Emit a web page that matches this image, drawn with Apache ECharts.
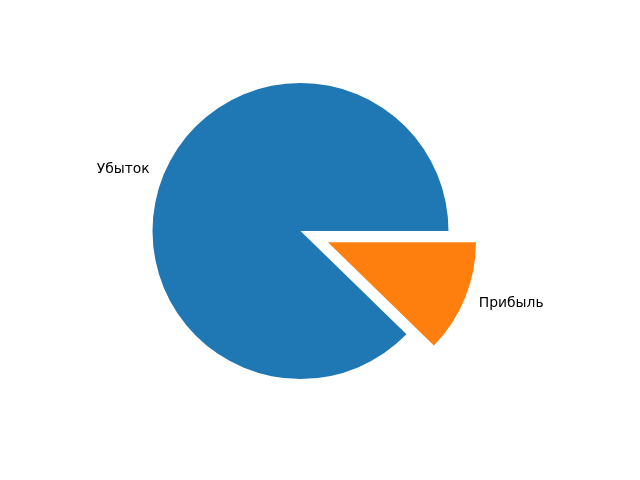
<!DOCTYPE html>
<html><head><meta charset="utf-8">
<script src="https://cdn.jsdelivr.net/npm/echarts@6/dist/echarts.min.js"></script>
<style>html,body{margin:0;padding:0;background:#fff}#c{width:640px;height:480px}</style>
</head><body><div id="c"></div>
<script>
const categories = ['Убыток', 'Прибыль'];
const values = [87.7, 12.3];
const colors = ['#1f77b4', '#ff7f0e'];
const exploded = [false, true];

const R = 148;
const chart = echarts.init(document.getElementById('c'), null, {renderer: 'canvas'});
chart.setOption({
  animation: false,
  backgroundColor: '#fff',
  series: [{
    type: 'pie',
    center: [300.5, 231],
    radius: [0, R],
    startAngle: 0,
    clockwise: false,
    avoidLabelOverlap: false,
    selectedMode: 'multiple',
    selectedOffset: R * 0.2,
    emphasis: {disabled: true},
    label: {
      show: true,
      position: 'outside',
      color: '#000',
      fontFamily: 'DejaVu Sans',
      fontSize: 13.9,
      distanceToLabelLine: 0
    },
    labelLine: {show: false, length: R * 0.1, length2: 0},
    data: categories.map((c, i) => ({
      name: c, value: values[i], selected: exploded[i],
      itemStyle: {color: colors[i]}
    }))
  }]
});
</script></body></html>
